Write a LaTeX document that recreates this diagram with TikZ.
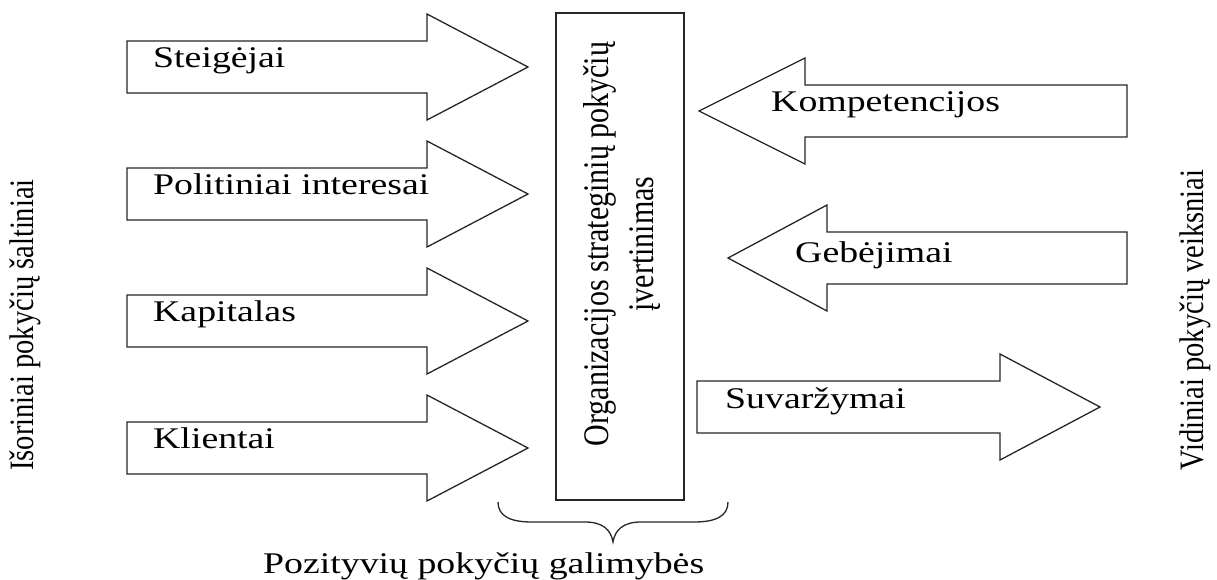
\documentclass[tikz,border=0pt]{standalone}
\usepackage{fontspec}
\setmainfont{Liberation Serif}
\usepackage{graphicx}

% horizontally widened lettering, and the same widening for text turned upright
\newcommand\hwide[1]{\scalebox{1.26}[1]{#1}}
\newcommand\vthick[1]{\scalebox{1}[1.2]{#1}}

% block arrow pointing right: shaft left x, head base x, tip x, centre y
\newcommand\rightblock[4]{%
  \draw[blk] (#1,#4-26) -- (#2,#4-26) -- (#2,#4-53) -- (#3,#4)
    -- (#2,#4+53) -- (#2,#4+26) -- (#1,#4+26) -- cycle;}
% block arrow pointing left: tip x, head base x, shaft right x, centre y
\newcommand\leftblock[4]{%
  \draw[blk] (#3,#4-26) -- (#2,#4-26) -- (#2,#4-53) -- (#1,#4)
    -- (#2,#4+53) -- (#2,#4+26) -- (#3,#4+26) -- cycle;}

\tikzset{
  blk/.style={draw=black!85, line width=1.3pt, fill=white, line join=miter},
  lbl/.style={inner sep=0pt, font=\fontsize{30}{36}\selectfont},
  side/.style={inner sep=0pt, rotate=90, font=\fontsize{28.5}{37}\selectfont},
}

\begin{document}
\begin{tikzpicture}[x=1pt, y=-1pt]
\useasboundingbox (0,0) rectangle (1217,579);

% external sources
\rightblock{127}{427}{528}{67}
\rightblock{127}{427}{528}{194}
\rightblock{127}{427}{528}{321}
\rightblock{127}{427}{528}{448}
\node[lbl, anchor=base west] (steig) at (153,67)  {\hwide{Steigėjai}};
\node[lbl, anchor=base west] (polit) at (153,194) {\hwide{Politiniai interesai}};
\node[lbl, anchor=base west] (kapit) at (153,321) {\hwide{Kapitalas}};
\node[lbl, anchor=base west] (klien) at (153,448) {\hwide{Klientai}};

% central assessment box
\node[draw=black!85, line width=1.3pt, minimum width=128pt, minimum height=487pt,
      inner sep=0pt] (evalbox) at (620,256.5) {};
\node[side, align=center, font=\fontsize{30}{38}\selectfont] (evaltext) at (622,244)
  {\vthick{\begin{tabular}{@{}c@{}}Organizacijos strateginių pokyčių\\įvertinimas\end{tabular}}};

% internal factors
\leftblock{699}{805}{1127}{111}
\leftblock{728}{827}{1127}{258}
\rightblock{697}{1000}{1100}{407}
\node[lbl, anchor=base west] (kompe) at (771,111) {\hwide{Kompetencijos}};
\node[lbl, anchor=base west] (gebej) at (795,262) {\hwide{Gebėjimai}};
\node[lbl, anchor=base west] (suvar) at (725,408) {\hwide{Suvaržymai}};

% side captions
\node[side] (outer) at (25,325)   {\vthick{Išoriniai pokyčių šaltiniai}};
\node[side] (inner) at (1195,320) {\vthick{Vidiniai pokyčių veiksniai}};

% brace under the box and its caption
\coordinate (bl) at (498,502);
\coordinate (bt) at (613,542);
\coordinate (br) at (728,502);
\draw[black!85, line width=1.3pt]
  (bl) .. controls (498,516) and (510,522) .. (532,522) -- (585,522)
       .. controls (603,522) and (611,530) .. (bt)
       .. controls (615,530) and (623,522) .. (641,522) -- (694,522)
       .. controls (716,522) and (728,516) .. (br);
\node[lbl, anchor=base west] (posit) at (263,573) {\hwide{Pozityvių pokyčių galimybės}};
\end{tikzpicture}
\end{document}
